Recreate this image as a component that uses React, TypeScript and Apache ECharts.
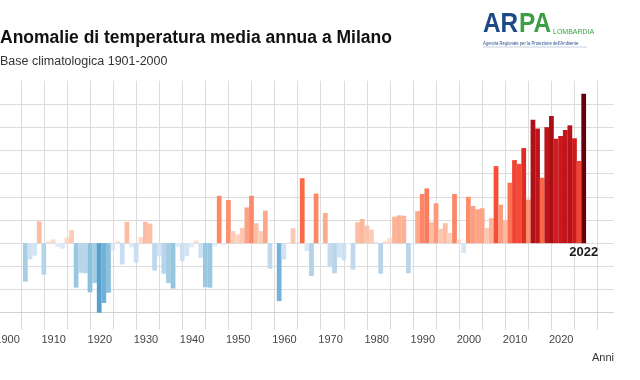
import React, { useEffect, useRef } from 'react';
import * as echarts from 'echarts';

const START_YEAR = 1901;
const anomalies: number[] = [
  -0.83, -0.35, -0.27, 0.47, -0.68, 0.04, 0.08, -0.08, -0.12, 0.12, // 1901-1910
  0.28, -0.96, -0.64, -0.65, -1.06, -0.86, -1.54, -1.29, -1.07, -0.16, // 1911-1920
  0.04, -0.46, 0.46, -0.09, -0.42, 0.13, 0.46, 0.42, -0.59, -0.29, // 1921-1930
  -0.66, -0.86, -0.98, -0.08, -0.39, -0.28, -0.09, 0.06, -0.32, -0.95, // 1931-1940
  -0.96, -0.07, 1.02, -0.05, 0.93, 0.26, 0.19, 0.33, 0.77, 1.02, // 1941-1950
  0.43, 0.26, 0.7, -0.55, -0.02, -1.25, -0.35, 0.01, 0.32, 0.02, // 1951-1960
  1.4, -0.17, -0.71, 1.07, -0.04, 0.65, -0.5, -0.65, -0.31, -0.37, // 1961-1970
  -0.02, -0.57, 0.45, 0.52, 0.38, 0.29, 0.02, -0.66, 0.05, 0.11, // 1971-1980
  0.57, 0.6, 0.59, -0.65, -0.05, 0.69, 1.06, 1.18, 0.45, 0.86, // 1981-1990
  0.31, 0.43, 0.22, 1.06, 0.08, -0.21, 1.0, 0.8, 0.73, 0.75, // 1991-2000
  0.33, 0.54, 1.66, 0.83, 0.49, 1.3, 1.79, 1.71, 2.05, 0.94, // 2001-2010
  2.66, 2.47, 1.41, 2.5, 2.74, 2.25, 2.31, 2.44, 2.54, 2.26, // 2011-2020
  1.77, 3.22, // 2021-2022
];
const gridYears: number[] = [
  1900, 1905, 1910, 1915, 1920, 1925, 1930, 1935, 1940, 1945, 1950, 1955, 1960,
  1965, 1970, 1975, 1980, 1985, 1990, 1995, 2000, 2005, 2010, 2015, 2020, 2025,
];
const labelYears: number[] = [1900, 1910, 1920, 1930, 1940, 1950, 1960, 1970, 1980, 1990, 2000, 2010, 2020];
const highlightYear = 2022;

const TITLE = 'Anomalie di temperatura media annua a Milano';
const SUBTITLE = 'Base climatologica 1901-2000';
const X_NAME = 'Anni';

const REDS = ['#fff5f0', '#fee0d2', '#fcbba1', '#fc9272', '#fb6a4a', '#ef3b2c', '#cb181d', '#a50f15', '#67000d'];
const BLUES = ['#f7fbff', '#deebf7', '#c6dbef', '#9ecae1', '#6baed6', '#4292c6', '#2171b5', '#08519c', '#08306b'];

function hexToRgb(h: string): number[] {
  const n = parseInt(h.slice(1), 16);
  return [(n >> 16) & 255, (n >> 8) & 255, n & 255];
}
function lerpScheme(s: string[], t: number): string {
  const tt = Math.max(0, Math.min(1, t));
  const p = tt * (s.length - 1);
  const i = Math.min(Math.floor(p), s.length - 2);
  const f = p - i;
  const a = hexToRgb(s[i]);
  const b = hexToRgb(s[i + 1]);
  const c = a.map((av, k) => Math.round(av + (b[k] - av) * f));
  return `rgb(${c[0]},${c[1]},${c[2]})`;
}
function colorFor(v: number): string {
  return v >= 0
    ? lerpScheme(REDS, 0.12 + 0.88 * Math.min(v / 3.22, 1))
    : lerpScheme(BLUES, 0.1 + 0.9 * Math.min(-v / 3, 1));
}

const FONT = '"Liberation Sans", Arial, Helvetica, sans-serif';

export default function App() {
  const ref = useRef<HTMLDivElement>(null);
  useEffect(() => {
    if (!ref.current) return;
    const chart = echarts.init(ref.current, null, { renderer: 'svg' });
    const data = anomalies.map((v, i) => {
      const year = START_YEAR + i;
      const item: any = { value: [year, v], itemStyle: { color: colorFor(v) } };
      if (year === highlightYear) {
        item.label = {
          show: true,
          position: 'bottom',
          distance: 2,
          formatter: String(year),
          fontSize: 13,
          fontWeight: 'bold',
          color: '#1a1a1a',
          fontFamily: FONT,
        };
      }
      return item;
    });
    chart.setOption({
      animation: false,
      grid: {
        left: -2.3,
        right: 26.3,
        top: 80.8,
        bottom: 67.3,
        containLabel: false,
        outerBoundsMode: 'none',
      },
      xAxis: {
        type: 'value',
        min: 1895,
        max: 2028.5,
        interval: 5,
        axisLine: { show: true, onZero: false, lineStyle: { color: '#d2d2d2', width: 1 } },
        axisTick: { show: true, length: 17, customValues: gridYears, lineStyle: { color: '#d9d9d9' } },
        axisLabel: {
          customValues: labelYears,
          align: 'right',
          margin: 21,
          padding: [0, 1, 0, 0],
          fontSize: 11,
          color: '#444',
          fontFamily: FONT,
          hideOverlap: false,
          formatter: (v: number) => String(v),
        },
        splitLine: { show: true, lineStyle: { color: '#dcdcdc', width: 1 } },
      },
      yAxis: {
        type: 'value',
        min: -1.5,
        max: 3.5,
        interval: 0.5,
        axisLabel: { show: false },
        axisLine: { show: false },
        axisTick: { show: false },
        splitLine: { show: true, showMaxLine: false, lineStyle: { color: '#dcdcdc', width: 1 } },
      },
      series: [
        {
          type: 'bar',
          data,
          barWidth: 4.75,
          emphasis: { disabled: true },
        },
      ],
      graphic: [
        {
          type: 'text',
          x: 0,
          y: 37,
          style: { text: TITLE, fill: '#111', font: `bold 17.5px ${FONT}`, align: 'left', verticalAlign: 'middle' },
        },
        {
          type: 'text',
          x: 0,
          y: 61,
          style: { text: SUBTITLE, fill: '#333', font: `12.5px ${FONT}`, align: 'left', verticalAlign: 'middle' },
        },
        {
          type: 'text',
          x: 614,
          y: 357,
          style: { text: X_NAME, fill: '#333', font: `11px ${FONT}`, align: 'right', verticalAlign: 'middle' },
        },
        {
          type: 'text',
          x: 483,
          y: 22,
          scaleX: 0.87,
          style: { text: 'AR', fill: '#1d4a86', font: `bold 28px ${FONT}`, align: 'left', verticalAlign: 'middle' },
        },
        {
          type: 'text',
          x: 519,
          y: 22,
          scaleX: 0.87,
          style: { text: 'PA', fill: '#3c9f46', font: `bold 28px ${FONT}`, align: 'left', verticalAlign: 'middle' },
        },
        {
          type: 'text',
          x: 553,
          y: 31,
          style: { text: 'LOMBARDIA', fill: '#3c9f46', font: `7px ${FONT}`, align: 'left', verticalAlign: 'middle' },
        },
        {
          type: 'text',
          x: 483,
          y: 43.5,
          scaleX: 0.85,
          style: {
            text: "Agenzia Regionale per la Protezione dell'Ambiente",
            fill: '#2b4f8a',
            font: `5px ${FONT}`,
            align: 'left',
            verticalAlign: 'middle',
          },
        },
        {
          type: 'line',
          shape: { x1: 483, y1: 47, x2: 587, y2: 47 },
          style: { stroke: '#9fb3cf', lineWidth: 0.6 },
        },
      ],
    });
    return () => chart.dispose();
  }, []);
  return <div ref={ref} style={{ position: 'fixed', left: 0, top: 0, width: 640, height: 380 }} />;
}
